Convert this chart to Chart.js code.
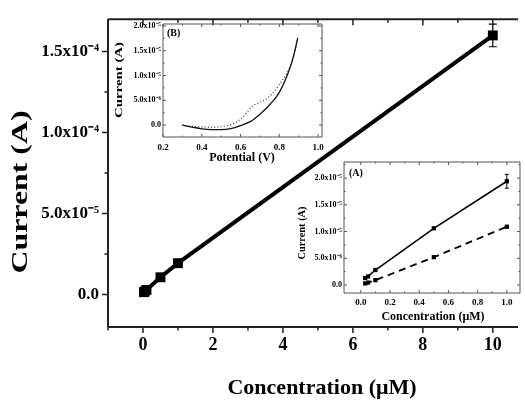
<!DOCTYPE html>
<html><head><meta charset="utf-8">
<script src="https://cdn.jsdelivr.net/npm/chart.js@4/dist/chart.umd.min.js"></script>
<style>
html,body{margin:0;padding:0;background:#fff;overflow:hidden;width:525px;height:400px;}
#wrap{position:relative;width:525px;height:400px;}
canvas{position:absolute;}
</style></head><body>
<div id="wrap">
<canvas id="main" width="525" height="400" style="left:0;top:0"></canvas>
<canvas id="insB" width="240" height="160" style="left:100px;top:10px"></canvas>
<canvas id="insA" width="240" height="170" style="left:285px;top:155px"></canvas>
</div>
<script>
// ---------- main chart data ----------
const mainConc = [0.03, 0.05, 0.1, 0.5, 1, 10];
const mainCurrent = [1.5e-6, 2.0e-6, 2.9e-6, 1.07e-5, 1.94e-5, 1.6e-4];
const mainErr = [0, 0, 0, 0, 0, 7e-6];
const mainXTicks = [0, 2, 4, 6, 8, 10];
const mainXTickLabels = ['0', '2', '4', '6', '8', '10'];
const mainXMinor = [-1, 1, 3, 5, 7, 9];
const mainYTicks = [0, 5e-5, 1e-4, 1.5e-4];
const mainYTickLabels = ['0.0', '5.0x10⁻⁵', '1.0x10⁻⁴', '1.5x10⁻⁴'];
const mainYMinor = [2.5e-5, 7.5e-5, 1.25e-4];

// ---------- inset A data ----------
const aConc = [0.03, 0.05, 0.1, 0.5, 1.0];
const aSolid = [1.3e-6, 1.6e-6, 2.8e-6, 1.06e-5, 1.94e-5];
const aSolidErr = [0, 0, 0, 0, 1.3e-6];
const aDashed = [0.3e-6, 0.45e-6, 0.9e-6, 5.2e-6, 1.09e-5];
const aXTicks = [0, 0.2, 0.4, 0.6, 0.8, 1.0];
const aXTickLabels = ['0.0', '0.2', '0.4', '0.6', '0.8', '1.0'];
const aXMinor = [0.1, 0.3, 0.5, 0.7, 0.9];
const aYTicks = [0, 5e-6, 1e-5, 1.5e-5, 2e-5];
const aYTickLabels = ['0.0', '5.0x10⁻⁶', '1.0x10⁻⁵', '1.5x10⁻⁵', '2.0x10⁻⁵'];
const aYMinor = [2.5e-6, 7.5e-6, 1.25e-5, 1.75e-5, 2.25e-5];

// ---------- inset B data ----------
const bPotSolid = [0.30, 0.35, 0.40, 0.45, 0.50, 0.55, 0.60, 0.65, 0.70, 0.75, 0.80, 0.85, 0.875, 0.895];
const bCurSolid = [0.0, -0.4e-6, -0.75e-6, -0.9e-6, -0.9e-6, -0.7e-6, -0.1e-6, 0.7e-6, 2.2e-6, 4.1e-6, 6.6e-6, 11.0e-6, 14.2e-6, 17.6e-6];
const bPotDot = [0.30, 0.35, 0.40, 0.45, 0.50, 0.55, 0.60, 0.63, 0.66, 0.70, 0.75, 0.80, 0.85, 0.875, 0.895];
const bCurDot = [0.0, -0.25e-6, -0.35e-6, -0.4e-6, -0.3e-6, 0.1e-6, 1.2e-6, 2.4e-6, 3.8e-6, 4.6e-6, 5.8e-6, 8.2e-6, 11.3e-6, 14.0e-6, 17.6e-6];
const bXTicks = [0.2, 0.4, 0.6, 0.8, 1.0];
const bXTickLabels = ['0.2', '0.4', '0.6', '0.8', '1.0'];
const bXMinor = [0.3, 0.5, 0.7, 0.9];
const bYTicks = [0, 5e-6, 1e-5, 1.5e-5, 2e-5];
const bYTickLabels = ['0.0', '5.0x10⁻⁶', '1.0x10⁻⁵', '1.5x10⁻⁵', '2.0x10⁻⁵'];
const bYMinor = [2.5e-6, 7.5e-6, 1.25e-5, 1.75e-5];

const SERIF = '"Liberation Serif", "Times New Roman", serif';
const zip = (xs, ys) => xs.map((x, i) => ({x: x, y: ys[i]}));

function labelFor(ticks, labels) {
  return v => {
    const i = ticks.findIndex(t => Math.abs(t - v) <= Math.abs(t) * 1e-6 + 1e-15);
    return i < 0 ? '' : labels[i];
  };
}

function makeOpts(o) {
  return {
    responsive: false, animation: false, devicePixelRatio: 1,
    layout: {padding: o.pad},
    plugins: {legend: {display: false}, tooltip: {enabled: false}},
    scales: {
      x: {
        type: 'linear', min: o.xmin, max: o.xmax,
        border: {display: false}, grid: {display: false, drawTicks: false},
        afterBuildTicks: s => { s.ticks = o.xTicks.map(v => ({value: v})); },
        afterFit: s => { s.height = o.xHeight; },
        ticks: {autoSkip: false, maxRotation: 0, padding: o.padX, color: '#000',
          font: {family: SERIF, weight: 'bold', size: o.fx},
          callback: labelFor(o.xTicks, o.xLabels)}
      },
      y: {
        type: 'linear', min: o.ymin, max: o.ymax,
        border: {display: false}, grid: {display: false, drawTicks: false},
        afterBuildTicks: s => { s.ticks = o.yTicks.map(v => ({value: v})); },
        afterFit: s => { s.width = o.yWidth; },
        ticks: {autoSkip: false, padding: o.padY, color: '#000',
          font: {family: SERIF, weight: 'bold', size: o.fy},
          callback: labelFor(o.yTicks, o.yLabels)}
      }
    }
  };
}

function decor(spec) {
  return {
    id: 'decor',
    afterDatasetsDraw(chart) {
      const ctx = chart.ctx, a = chart.chartArea;
      const xs = chart.scales.x, ys = chart.scales.y;
      ctx.save();
      // error bars
      chart.data.datasets.forEach(ds => {
        if (!ds.errorBars) return;
        ctx.strokeStyle = ds.errColor || '#000';
        ctx.lineWidth = ds.errWidth || 1;
        ds.data.forEach((p, i) => {
          const e = ds.errorBars[i];
          if (!e) return;
          const px = xs.getPixelForValue(p.x);
          const y1 = ys.getPixelForValue(p.y + e), y2 = ys.getPixelForValue(p.y - e);
          const c = ds.capHalf || 3;
          ctx.beginPath();
          ctx.moveTo(px, y1); ctx.lineTo(px, y2);
          ctx.moveTo(px - c, y1); ctx.lineTo(px + c, y1);
          ctx.moveTo(px - c, y2); ctx.lineTo(px + c, y2);
          ctx.stroke();
        });
      });
      // frame
      ctx.strokeStyle = spec.frameColor; ctx.lineWidth = spec.frameWidth;
      ctx.beginPath();
      spec.sides.forEach(s => {
        if (s === 'left') { ctx.moveTo(a.left, a.top); ctx.lineTo(a.left, a.bottom); }
        if (s === 'right') { ctx.moveTo(a.right, a.top); ctx.lineTo(a.right, a.bottom); }
        if (s === 'top') { ctx.moveTo(a.left, a.top); ctx.lineTo(a.right, a.top); }
        if (s === 'bottom') { ctx.moveTo(a.left, a.bottom); ctx.lineTo(a.right, a.bottom); }
      });
      ctx.stroke();
      // ticks
      ctx.lineWidth = spec.tickWidth;
      ctx.beginPath();
      spec.ticks.forEach(t => {
        t.values.forEach(v => {
          const sgn = t.dir === 'in' ? 1 : -1;
          if (t.side === 'bottom' || t.side === 'top') {
            const px = xs.getPixelForValue(v);
            if (px < a.left - 0.5 || px > a.right + 0.5) return;
            const y0 = t.side === 'bottom' ? a.bottom : a.top;
            const d = t.side === 'bottom' ? -sgn : sgn;
            ctx.moveTo(px, y0); ctx.lineTo(px, y0 + d * t.len);
          } else {
            const py = ys.getPixelForValue(v);
            if (py < a.top - 0.5 || py > a.bottom + 0.5) return;
            const x0 = t.side === 'left' ? a.left : a.right;
            const d = t.side === 'left' ? sgn : -sgn;
            ctx.moveTo(x0, py); ctx.lineTo(x0 + d * t.len, py);
          }
        });
      });
      ctx.stroke();
      // texts
      ctx.fillStyle = '#000';
      spec.texts.forEach(t => {
        ctx.save();
        ctx.font = 'bold ' + t.size + 'px ' + SERIF;
        ctx.textBaseline = 'middle';
        ctx.textAlign = t.align || 'center';
        ctx.translate(t.x, t.y);
        if (t.rot) ctx.rotate(-Math.PI / 2);
        if (t.len) { const w = ctx.measureText(t.text).width; ctx.scale(t.len / w, 1); }
        ctx.fillText(t.text, 0, 0);
        ctx.restore();
      });
      ctx.restore();
    }
  };
}

// ---------- main ----------
new Chart(document.getElementById('main'), {
  type: 'scatter',
  data: {datasets: [{
    data: zip(mainConc, mainCurrent), errorBars: mainErr, errWidth: 1.2, capHalf: 4,
    showLine: true, borderColor: '#000', backgroundColor: '#000', borderWidth: 4,
    pointStyle: 'rect', pointRadius: 7, pointBorderWidth: 0, clip: false
  }]},
  options: makeOpts({pad: {left: 0, top: 12, right: 0, bottom: 0},
    xmin: -1, xmax: 10.72, ymin: -2e-5, ymax: 1.7e-4,
    xTicks: mainXTicks, xLabels: mainXTickLabels, yTicks: mainYTicks, yLabels: mainYTickLabels,
    xHeight: 73, yWidth: 108, padX: 8, padY: 9, fx: 18, fy: 17}),
  plugins: [decor({frameColor: '#222', frameWidth: 2, tickWidth: 1.5,
    sides: ['left', 'bottom', 'top'],
    ticks: [
      {side: 'bottom', values: mainXTicks, len: 6, dir: 'out'},
      {side: 'bottom', values: mainXMinor, len: 3.5, dir: 'out'},
      {side: 'top', values: mainXTicks, len: 6, dir: 'in'},
      {side: 'top', values: mainXMinor, len: 3.5, dir: 'in'},
      {side: 'left', values: mainYTicks, len: 6, dir: 'out'},
      {side: 'left', values: mainYMinor, len: 3.5, dir: 'out'}
    ],
    texts: [
      {text: 'Concentration (μM)', x: 322, y: 388, size: 22},
      {text: 'Current (A)', x: 21, y: 192, size: 24, rot: true, len: 163}
    ]})]
});

// ---------- inset B ----------
new Chart(document.getElementById('insB'), {
  type: 'scatter',
  data: {datasets: [
    {data: zip(bPotSolid, bCurSolid), showLine: true, borderColor: '#111', borderWidth: 1.3,
     pointRadius: 0, tension: 0.3, cubicInterpolationMode: 'monotone'},
    {data: zip(bPotDot, bCurDot), showLine: true, borderColor: '#333', borderWidth: 1.2,
     borderDash: [1, 2.2], pointRadius: 0, cubicInterpolationMode: 'monotone'}
  ]},
  options: makeOpts({pad: {left: 0, top: 14, right: 18, bottom: 0},
    xmin: 0.2, xmax: 1.02, ymin: -2.4e-6, ymax: 2.04e-5,
    xTicks: bXTicks, xLabels: bXTickLabels, yTicks: bYTicks, yLabels: bYTickLabels,
    xHeight: 33, yWidth: 63, padX: 5, padY: 2, fx: 9, fy: 8}),
  plugins: [decor({frameColor: '#555', frameWidth: 1, tickWidth: 1,
    sides: ['left', 'bottom', 'top', 'right'],
    ticks: [
      {side: 'bottom', values: bXTicks, len: 3, dir: 'in'},
      {side: 'bottom', values: bXMinor, len: 1.5, dir: 'in'},
      {side: 'top', values: bXTicks, len: 3, dir: 'in'},
      {side: 'top', values: bXMinor, len: 1.5, dir: 'in'},
      {side: 'left', values: bYTicks, len: 3, dir: 'in'},
      {side: 'left', values: bYMinor, len: 1.5, dir: 'in'},
      {side: 'right', values: bYTicks, len: 3, dir: 'in'},
      {side: 'right', values: bYMinor, len: 1.5, dir: 'in'}
    ],
    texts: [
      {text: 'Potential (V)', x: 142, y: 148, size: 12},
      {text: 'Current (A)', x: 19, y: 70, size: 10, rot: true, len: 76},
      {text: '(B)', x: 67, y: 23, size: 10, align: 'left'}
    ]})]
});

// ---------- inset A ----------
new Chart(document.getElementById('insA'), {
  type: 'scatter',
  data: {datasets: [
    {data: zip(aConc, aSolid), errorBars: aSolidErr, capHalf: 2, errWidth: 1,
     showLine: true, borderColor: '#000', backgroundColor: '#000', borderWidth: 1.6,
     pointStyle: 'rect', pointRadius: 3, pointBorderWidth: 0},
    {data: zip(aConc, aDashed), showLine: true, borderColor: '#000', backgroundColor: '#000', borderWidth: 1.8,
     borderDash: [7, 5], pointStyle: 'rect', pointRadius: 3, pointBorderWidth: 0}
  ]},
  options: makeOpts({pad: {left: 0, top: 7, right: 5, bottom: 0},
    xmin: -0.115, xmax: 1.09, ymin: -1.5e-6, ymax: 2.3e-5,
    xTicks: aXTicks, xLabels: aXTickLabels, yTicks: aYTicks, yLabels: aYTickLabels,
    xHeight: 32, yWidth: 59, padX: 4, padY: 2, fx: 9, fy: 8}),
  plugins: [decor({frameColor: '#555', frameWidth: 1, tickWidth: 1,
    sides: ['left', 'bottom', 'top', 'right'],
    ticks: [
      {side: 'bottom', values: aXTicks, len: 3, dir: 'in'},
      {side: 'bottom', values: aXMinor, len: 1.5, dir: 'in'},
      {side: 'top', values: aXTicks, len: 3, dir: 'in'},
      {side: 'top', values: aXMinor, len: 1.5, dir: 'in'},
      {side: 'left', values: aYTicks, len: 3, dir: 'in'},
      {side: 'left', values: aYMinor, len: 1.5, dir: 'in'},
      {side: 'right', values: aYTicks, len: 3, dir: 'in'},
      {side: 'right', values: aYMinor, len: 1.5, dir: 'in'}
    ],
    texts: [
      {text: 'Concentration (μM)', x: 148, y: 162, size: 12},
      {text: 'Current (A)', x: 17, y: 78, size: 11, rot: true, len: 53},
      {text: '(A)', x: 64, y: 18, size: 10, align: 'left'}
    ]})]
});
</script>
</body></html>
